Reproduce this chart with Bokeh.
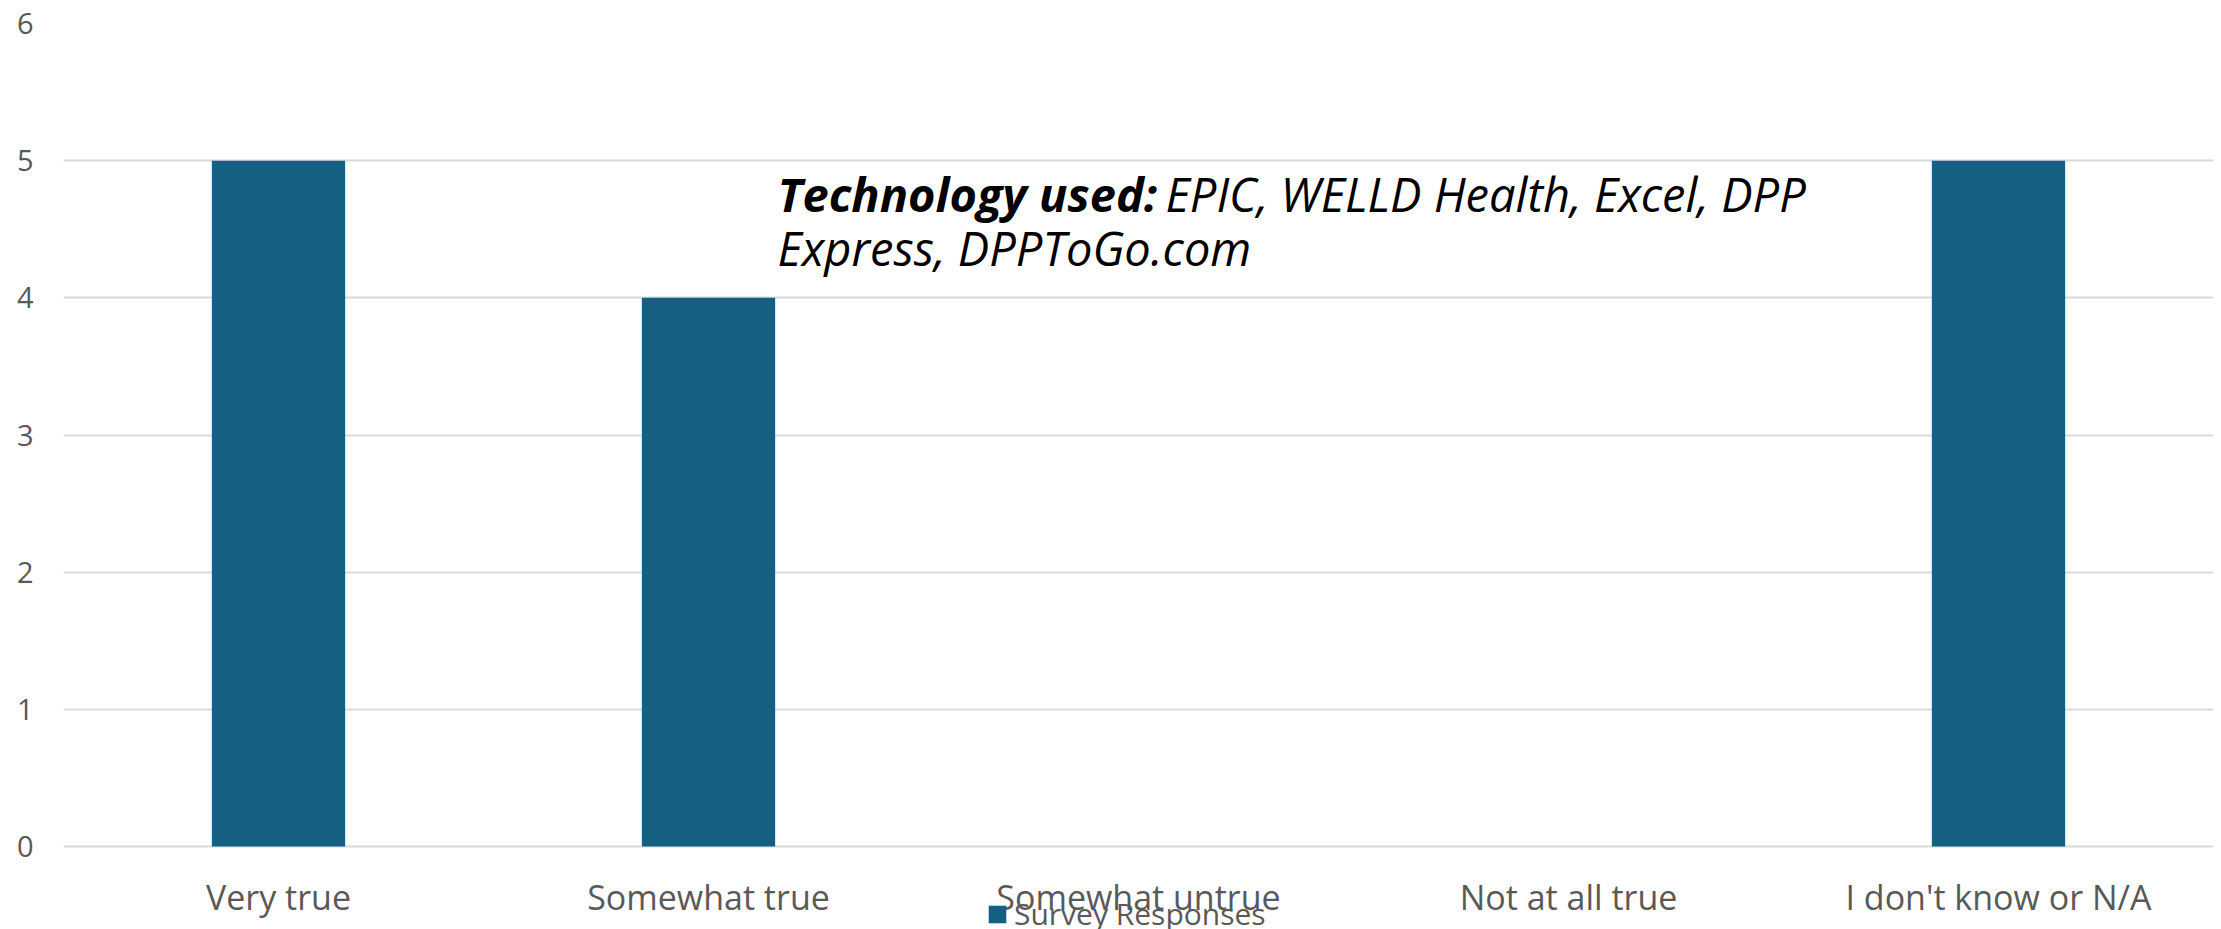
from bokeh.plotting import figure
from bokeh.models import Range1d, Label, Legend, LegendItem, FixedTicker
from bokeh.core.properties import value
from bokeh.embed import file_html
from bokeh.resources import INLINE

categories = ["Very true", "Somewhat true", "Somewhat untrue", "Not at all true", "I don't know or N/A"]
responses = [5, 4, 0, 0, 5]
y_ticks = [0, 1, 2, 3, 4, 5, 6]
series_name = "Survey Responses"
note_bold = "Technology used:"
note_line1 = "EPIC, WELLD Health, Excel, DPP"
note_line2 = "Express, DPPToGo.com"

FONT = "Open Sans"
BAR = "#156082"
GRID = "#d9d9d9"
TXT = "#595959"

# frame: value 6 at 23px from top, value 0 at 846px, frame runs to canvas bottom (929px)
px_per_unit = (846 - 23) / 6.0
y_bottom = -(929 - 846) / px_per_unit

p = figure(x_range=categories, y_range=Range1d(y_bottom, 6), width=2221, height=929,
           output_backend="svg", toolbar_location=None,
           min_border_left=63, min_border_right=8, min_border_top=23, min_border_bottom=0)
p.outline_line_color = None

r = p.vbar(x=categories, top=responses, width=0.31, fill_color=BAR, line_color=None)

# category labels drawn as text under the zero line
p.text(x=categories, y=[0] * len(categories), text=categories, y_offset=50,
       text_align="center", text_baseline="alphabetic", text_font=value(FONT),
       text_font_size="34px", text_color=TXT)

p.xgrid.grid_line_color = None
p.ygrid.grid_line_color = GRID
p.ygrid.grid_line_width = 2
p.xaxis.visible = False

p.yaxis.ticker = FixedTicker(ticks=y_ticks)
p.yaxis.axis_line_color = None
p.yaxis.major_tick_line_color = None
p.yaxis.major_tick_out = 0
p.yaxis.minor_tick_line_color = None
p.yaxis.major_label_text_font = FONT
p.yaxis.major_label_text_font_size = "29px"
p.yaxis.major_label_text_color = TXT
p.yaxis.major_label_standoff = 30

for txt, xx, yy, style in [(note_bold, 1.6605, 4.76, "bold italic"),
                           (note_line1, 2.5628, 4.76, "italic"),
                           (note_line2, 1.6605, 4.36, "italic")]:
    p.add_layout(Label(x=xx, y=yy, text=txt, text_font=FONT, text_font_style=style,
                       text_font_size="47px", text_color="black", text_baseline="alphabetic"))

legend = Legend(items=[LegendItem(label=series_name, renderers=[r])], location=(923, -5),
                padding=0, margin=0, spacing=0, label_standoff=6, glyph_width=22, glyph_height=22,
                label_text_font=FONT, label_text_font_size="30px", label_text_color=TXT,
                border_line_color=None, background_fill_alpha=0)
p.add_layout(legend, "center")

open("out.html", "w").write(file_html(p, INLINE))
